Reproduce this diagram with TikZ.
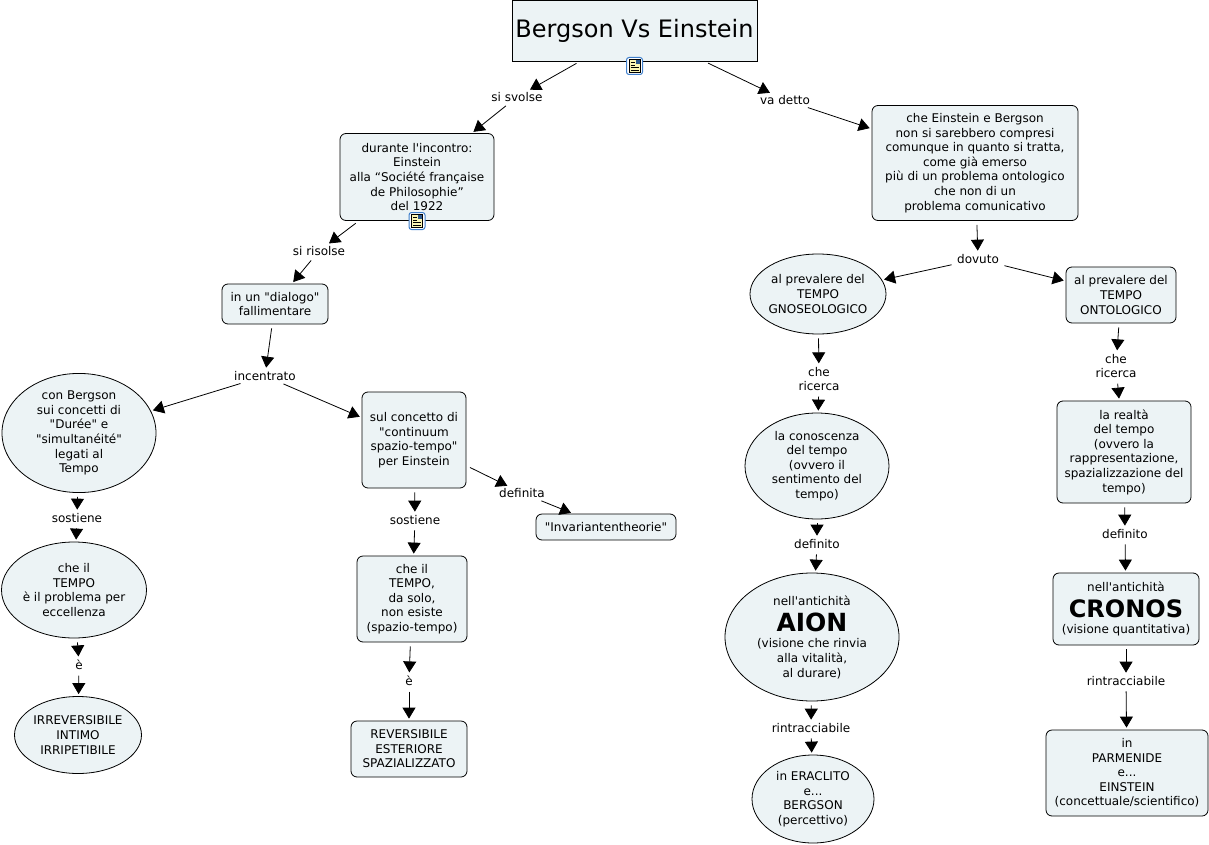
\documentclass[tikz,border=0pt]{standalone}
\usepackage{fontspec}
\setmainfont[Ligatures=TeXOff]{DejaVu Sans}
\usetikzlibrary{arrows.meta,shapes.geometric}
\definecolor{conceptfill}{HTML}{ECF3F5}
\definecolor{iconblue}{HTML}{3F7FCC}
\definecolor{iconpaper}{HTML}{FBF6B4}
\tikzset{
  concept/.style={draw=black,fill=conceptfill,line width=0.8pt,align=center,inner sep=0pt,
    font=\fontsize{12}{14.6}\selectfont},
  box/.style={concept,rectangle,rounded corners=6pt},
  oval/.style={concept,ellipse},
  linkname/.style={align=center,inner sep=1.5pt,font=\fontsize{12}{14.6}\selectfont},
  conn/.style={line width=0.8pt,-{Triangle[length=11pt,width=13pt]},shorten >=2pt,shorten <=4pt},
  notes/.pic={
    \draw[iconblue,fill=white,line width=1pt,rounded corners=2.5pt] (-8,-8.5) rectangle (8,8.5);
    \draw[black,fill=iconpaper,line width=0.6pt] (-5.5,-6.5) rectangle (5.5,6.5);
    \fill[iconblue!70!black] (1,-6) rectangle (5,-2);
    \foreach \y in {-3.5,-1,1.5,4}
      \draw[black,line width=0.7pt] (-4,\y) -- ({\y<-0.5 ? 0 : 4},\y);
  }
}
\begin{document}
\begin{tikzpicture}[x=1pt,y=-1pt]
  \useasboundingbox (0,0) rectangle (1209,845);

  % concepts
  \node[concept,rectangle,minimum width=245pt,minimum height=61pt,font=\fontsize{24}{29}\selectfont] (title) at (634.5,30.5) {\raisebox{2pt}{Bergson Vs Einstein}};
  \node[box,minimum width=154pt,minimum height=87pt] (incontro) at (417,177) {durante l'incontro:\\Einstein\\alla “Société française\\de Philosophie”\\del 1922};
  \node[box,minimum width=206pt,minimum height=115pt] (compresi) at (975,163) {che Einstein e Bergson\\non si sarebbero compresi\\comunque in quanto si tratta,\\come già emerso\\più di un problema ontologico\\che non di un\\problema comunicativo};
  \node[box,minimum width=106pt,minimum height=40pt] (dialogo) at (275,304) {in un "dialogo"\\fallimentare};
  \node[oval,minimum width=154pt,minimum height=119pt] (durata) at (79,433) {con Bergson\\sui concetti di\\"Durée" e\\"simultanéité"\\legati al\\Tempo};
  \node[box,minimum width=104pt,minimum height=96pt] (continuum) at (414,440) {sul concetto di\\"continuum\\spazio-tempo"\\per Einstein};
  \node[box,minimum width=140pt,minimum height=26pt] (invarianten) at (606,527) {"Invariantentheorie"};
  \node[oval,minimum width=145pt,minimum height=96pt] (problema) at (74,590) {che il\\TEMPO\\è il problema per\\eccellenza};
  \node[oval,minimum width=127pt,minimum height=77pt] (irrev) at (78,735) {IRREVERSIBILE\\INTIMO\\IRRIPETIBILE};
  \node[box,minimum width=110pt,minimum height=86pt] (solo) at (412,599) {che il\\TEMPO,\\da solo,\\non esiste\\(spazio-tempo)};
  \node[box,minimum width=116pt,minimum height=56pt] (rev) at (409,749) {REVERSIBILE\\ESTERIORE\\SPAZIALIZZATO};
  \node[oval,inner xsep=-1.5pt,minimum width=136pt,minimum height=80pt] (gnoseo) at (818,294) {al prevalere del\\TEMPO\\GNOSEOLOGICO};
  \node[box,minimum width=110pt,minimum height=56pt] (onto) at (1121,295) {al prevalere del\\TEMPO\\ONTOLOGICO};
  \node[oval,minimum width=144pt,minimum height=106pt] (conoscenza) at (817,466) {la conoscenza\\del tempo\\(ovvero il\\sentimento del\\tempo)};
  \node[box,minimum width=134pt,minimum height=102pt] (realta) at (1124,452) {la realtà\\del tempo\\(ovvero la\\rappresentazione,\\spazializzazione del\\tempo)};
  \node[oval,minimum width=174pt,minimum height=128pt] (aion) at (812,637) {nell'antichità\\[7pt]{\fontsize{25}{29}\selectfont\bfseries AION}\\[1.5pt](visione che rinvia\\alla vitalità,\\al durare)};
  \node[box,minimum width=146pt,minimum height=72pt] (cronos) at (1126,609) {nell'antichità\\[7pt]{\fontsize{24}{29}\selectfont\bfseries CRONOS}\\[1.5pt](visione quantitativa)};
  \node[oval,minimum width=122pt,minimum height=88pt] (eraclito) at (813,799) {in ERACLITO\\e...\\BERGSON\\(percettivo)};
  \node[box,minimum width=162pt,minimum height=86pt] (parmenide) at (1127,773) {in\\PARMENIDE\\e...\\EINSTEIN\\(concettuale/scientifico)};

  % link names
  \node[linkname] (svolse) at (517,97) {si svolse};
  \node[linkname] (vadetto) at (785,100) {va detto};
  \node[linkname] (risolse) at (319,251) {si risolse};
  \node[linkname] (incentrato) at (265,376) {incentrato};
  \node[linkname] (definita) at (522,493) {definita};
  \node[linkname] (sostieneA) at (77,518) {sostiene};
  \node[linkname] (sostieneB) at (415,520) {sostiene};
  \node[linkname] (eA) at (79,665) {è};
  \node[linkname] (eB) at (409,681) {è};
  \node[linkname] (dovuto) at (978,259) {dovuto};
  \node[linkname] (ricercaA) at (819,379) {che\\ricerca};
  \node[linkname] (ricercaB) at (1116,366) {che\\ricerca};
  \node[linkname] (definitoA) at (817,544) {definito};
  \node[linkname] (definitoB) at (1125,534) {definito};
  \node[linkname] (rintrA) at (811,728) {rintracciabile};
  \node[linkname] (rintrB) at (1126,681) {rintracciabile};

  % connectors
  \draw[conn] (title) -- (svolse);
  \draw[conn] (svolse) -- (incontro);
  \draw[conn] ([xshift=70pt]title.south) -- (vadetto);
  \draw[conn] (vadetto) -- (compresi);
  \draw[conn] (incontro) -- (risolse);
  \draw[conn] (risolse) -- (dialogo);
  \draw[conn] (dialogo) -- (incentrato);
  \draw[conn] (incentrato) -- (durata);
  \draw[conn] (incentrato) -- (continuum);
  \draw[conn] (continuum) -- (definita);
  \draw[conn] (definita) -- (invarianten);
  \draw[conn] (durata) -- (sostieneA);
  \draw[conn] (sostieneA) -- (problema);
  \draw[conn] (problema) -- (eA);
  \draw[conn] (eA) -- (irrev);
  \draw[conn] (continuum) -- (sostieneB);
  \draw[conn] (sostieneB) -- (solo);
  \draw[conn] (solo) -- (eB);
  \draw[conn] (eB) -- (rev);
  \draw[conn] (compresi) -- (dovuto);
  \draw[conn] (dovuto) -- (gnoseo);
  \draw[conn] (dovuto) -- (onto);
  \draw[conn] (gnoseo) -- (ricercaA);
  \draw[conn] (ricercaA) -- (conoscenza);
  \draw[conn] (conoscenza) -- (definitoA);
  \draw[conn] (definitoA) -- (aion);
  \draw[conn] (aion) -- (rintrA);
  \draw[conn] (rintrA) -- (eraclito);
  \draw[conn] (onto) -- (ricercaB);
  \draw[conn] (ricercaB) -- (realta);
  \draw[conn] (realta) -- (definitoB);
  \draw[conn] (definitoB) -- (cronos);
  \draw[conn] (cronos) -- (rintrB);
  \draw[conn] (rintrB) -- (parmenide);

  % note icons
  \pic at (634.5,66) {notes};
  \pic at (417,221) {notes};
\end{tikzpicture}
\end{document}
